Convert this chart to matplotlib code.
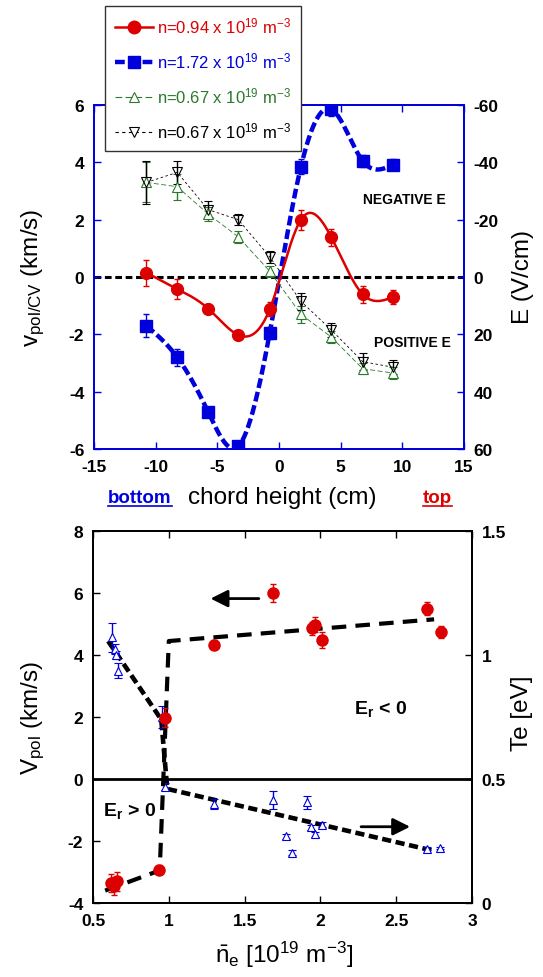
import numpy as np
import matplotlib
matplotlib.use("Agg")
import matplotlib.pyplot as plt
from matplotlib.lines import Line2D

plt.rcParams['font.family'] = ['Liberation Sans', 'DejaVu Sans']
plt.rcParams['mathtext.fontset'] = 'custom'
plt.rcParams['mathtext.rm'] = 'Liberation Sans'
plt.rcParams['mathtext.it'] = 'Liberation Sans:italic'
plt.rcParams['mathtext.bf'] = 'Liberation Sans:bold'
plt.rcParams['axes.unicode_minus'] = False

# ---- top panel: poloidal velocity profiles vs chord height ----
chord = [-10.75, -8.25, -5.75, -3.3, -0.75, 1.78, 4.25, 6.78, 9.25]

v_094 = [0.15, -0.42, -1.1, -2.02, -1.12, 2.0, 1.38, -0.6, -0.7]
e_094 = [0.45, 0.35, 0.15, 0.15, 0.25, 0.35, 0.3, 0.3, 0.25]

v_172 = [-1.7, -2.8, -4.7, -5.9, -1.95, 3.85, 5.85, 4.05, 3.92]
e_172 = [0.4, 0.3, 0.15, 0.1, 0.2, 0.25, 0.25, 0.2, 0.2]

v_067a = [3.3, 3.15, 2.2, 1.4, 0.2, -1.3, -2.1, -3.2, -3.35]
e_067a = [0.7, 0.45, 0.25, 0.2, 0.2, 0.3, 0.2, 0.2, 0.2]

v_067b = [3.3, 3.65, 2.35, 2.0, 0.7, -0.85, -1.85, -2.95, -3.15]
e_067b = [0.75, 0.4, 0.3, 0.2, 0.2, 0.3, 0.25, 0.3, 0.25]

# ---- bottom panel: Vpol and Te vs line averaged density ----
ne_v = [0.62, 0.64, 0.66, 0.936, 0.974, 1.30, 1.686, 1.944, 1.967, 2.013, 2.70, 2.795]
vpol = [-3.35, -3.45, -3.3, -2.92, 1.98, 4.33, 6.0, 4.86, 4.98, 4.49, 5.50, 4.74]
vpol_err = [0.3, 0.3, 0.3, 0.15, 0.3, 0.15, 0.3, 0.2, 0.25, 0.25, 0.2, 0.2]

ne_te = [0.625, 0.643, 0.65, 0.668, 0.955, 0.975, 1.30, 1.686, 1.773, 1.81,
         1.913, 1.94, 1.966, 2.01, 2.70, 2.79]
te = [1.071, 1.025, 1.0, 0.9375, 0.75, 0.469, 0.40, 0.415, 0.269, 0.2025,
      0.406, 0.306, 0.2775, 0.315, 0.219, 0.2225]
te_err = [0.06, 0.02, 0.015, 0.03, 0.045, 0.015, 0.02, 0.035, 0.01, 0.01,
          0.025, 0.01, 0.01, 0.01, 0.005, 0.005]

# hand-drawn trend lines of the original figure
fit_v_ne = [0.58, 0.94, 1.0, 2.75]
fit_v = [-3.6, -2.95, 4.45, 5.15]
fit_te_ne = [0.6, 0.95, 0.99, 2.75]
fit_te = [1.056, 0.74, 0.46, 0.21]

RED = '#dd0000'
BLUE = '#0000dd'
GREEN = '#2a7a2a'
TICK_FS = 12.5
LABEL_FS = 17.5


def natural_spline(x, y, n=300):
    x = np.asarray(x, float)
    y = np.asarray(y, float)
    h = np.diff(x)
    m = len(x)
    A = np.zeros((m, m))
    b = np.zeros(m)
    A[0, 0] = A[-1, -1] = 1
    for i in range(1, m - 1):
        A[i, i - 1] = h[i - 1]
        A[i, i] = 2 * (h[i - 1] + h[i])
        A[i, i + 1] = h[i]
        b[i] = 6 * ((y[i + 1] - y[i]) / h[i] - (y[i] - y[i - 1]) / h[i - 1])
    M = np.linalg.solve(A, b)
    xs = np.linspace(x[0], x[-1], n)
    k = np.clip(np.searchsorted(x, xs) - 1, 0, m - 2)
    hk = h[k]
    t1 = x[k + 1] - xs
    t0 = xs - x[k]
    ys = (M[k] * t1 ** 3 + M[k + 1] * t0 ** 3) / (6 * hk) \
        + (y[k] / hk - M[k] * hk / 6) * t1 + (y[k + 1] / hk - M[k + 1] * hk / 6) * t0
    return xs, ys


fig = plt.figure(figsize=(5.43, 9.78), dpi=100)

# ================= top panel =================
ax = fig.add_axes([94 / 543, 1 - 450 / 978, 370 / 543, 344 / 978])
ax.set_xlim(-15, 15)
ax.set_ylim(-6, 6)

ax.axhline(0, color='black', ls=(0, (2.2, 1.2)), lw=2.2, zorder=1)

xs, ys = natural_spline(chord, v_094)
ax.plot(xs, ys, color=RED, lw=1.8, zorder=3)
xs, ys = natural_spline(chord, v_172)
ax.plot(xs, ys, color=BLUE, lw=3.2, ls=(0, (2.2, 0.9)), zorder=2)

ax.plot(chord, v_067a, color=GREEN, lw=0.6, ls=(0, (6, 3)), zorder=2)
ax.plot(chord, v_067b, color='black', lw=0.6, ls=(0, (3, 3)), zorder=2)

ax.errorbar(chord, v_067a, yerr=e_067a, fmt='^', ms=7, mfc='white', mec=GREEN,
            mew=0.8, ecolor=GREEN, elinewidth=1, capsize=3, zorder=4)
ax.errorbar(chord, v_067b, yerr=e_067b, fmt='v', ms=7, mfc='none', mec='black',
            mew=0.8, ecolor='black', elinewidth=1, capsize=3, zorder=4)
ax.errorbar(chord, v_094, yerr=e_094, fmt='o', ms=8.5, color=RED,
            ecolor=RED, elinewidth=1, capsize=2.5, zorder=5)
ax.errorbar(chord, v_172, yerr=e_172, fmt='s', ms=8, color=BLUE,
            ecolor=BLUE, elinewidth=1, capsize=2.5, zorder=5)

ax.set_xticks(range(-15, 16, 5))
ax.set_yticks(range(-6, 7, 2))
ax.tick_params(direction='in', length=5, width=1, color=BLUE, top=True,
               labelsize=TICK_FS, pad=7)
for lab in ax.get_xticklabels() + ax.get_yticklabels():
    lab.set_fontweight('bold')
for sp in ax.spines.values():
    sp.set_color(BLUE)
    sp.set_linewidth(1.3)

ax2 = ax.twinx()
ax2.set_ylim(60, -60)
ax2.set_yticks(range(-60, 61, 20))
ax2.tick_params(direction='in', length=5, width=1, color=BLUE, labelsize=TICK_FS, pad=7)
for lab in ax2.get_yticklabels():
    lab.set_fontweight('bold')
for sp in ax2.spines.values():
    sp.set_color(BLUE)
    sp.set_linewidth(1.3)

ax.text(10.2, 2.72, 'NEGATIVE E', fontsize=10, fontweight='bold',
        ha='center', va='center')
ax.text(10.8, -2.27, 'POSITIVE E', fontsize=10, fontweight='bold',
        ha='center', va='center')

fig.text(33 / 543, 1 - 278 / 978, r'v$_{\mathregular{pol/CV}}$ (km/s)', rotation=90,
         fontsize=LABEL_FS, ha='center', va='center')
fig.text(523 / 543, 1 - 277 / 978, 'E (V/cm)', rotation=90,
         fontsize=LABEL_FS, ha='center', va='center')
fig.text(282 / 543, 1 - 498 / 978, 'chord height (cm)', fontsize=LABEL_FS,
         ha='center', va='center')
t_bot = fig.text(108 / 543, 1 - 499 / 978, 'bottom', fontsize=13.5, fontweight='bold',
                 color=BLUE, ha='left', va='center')
t_top = fig.text(423 / 543, 1 - 499 / 978, 'top', fontsize=13.5, fontweight='bold',
                 color=RED, ha='left', va='center')

handles = [
    Line2D([], [], color=RED, lw=1.8, marker='o', ms=9),
    Line2D([], [], color=BLUE, lw=3.2, ls=(0, (2.2, 0.9)), marker='s', ms=8.5),
    Line2D([], [], color=GREEN, lw=0.8, ls=(0, (6, 3)), marker='^', ms=7,
           mfc='white', mec=GREEN, mew=0.8),
    Line2D([], [], color='black', lw=0.8, ls=(0, (3, 3)), marker='v', ms=7,
           mfc='white', mec='black', mew=0.8),
]
labels = [r'n=0.94 x 10$^{19}$ m$^{-3}$', r'n=1.72 x 10$^{19}$ m$^{-3}$',
          r'n=0.67 x 10$^{19}$ m$^{-3}$', r'n=0.67 x 10$^{19}$ m$^{-3}$']
leg = fig.legend(handles, labels, loc='upper left',
                 bbox_to_anchor=(105 / 543, 1 - 7 / 978), borderaxespad=0,
                 fontsize=12, handlelength=2.3, handletextpad=0.2,
                 labelspacing=0.9, borderpad=0.6, fancybox=False,
                 framealpha=1, edgecolor='#333333')
leg.get_frame().set_linewidth(1.0)
for txt, c in zip(leg.get_texts(), [RED, BLUE, GREEN, 'black']):
    txt.set_color(c)

# ================= bottom panel =================
ax3 = fig.add_axes([93 / 543, 1 - 904 / 978, 379 / 543, 372 / 978])
ax3.set_xlim(0.5, 3)
ax3.set_ylim(-4, 8)
ax3.axhline(0, color='black', lw=2, zorder=1)

ax4 = ax3.twinx()
ax4.set_ylim(0, 1.5)

ax3.plot(fit_v_ne, fit_v, color='black', lw=3, ls=(0, (3.5, 2.2)), zorder=3)
ax4.plot(fit_te_ne, fit_te, color='black', lw=3.3, ls=(0, (2, 1)), zorder=3)

ax4.errorbar(ne_te, te, yerr=te_err, fmt='^', ms=6, mfc='white', mec=BLUE,
             mew=0.8, ecolor=BLUE, elinewidth=1, capsize=3, zorder=4)
ax3.errorbar(ne_v, vpol, yerr=vpol_err, fmt='o', ms=8, color=RED,
             ecolor=RED, elinewidth=1, capsize=2.5, zorder=5)
ax3.set_zorder(ax4.get_zorder() + 1)
ax3.patch.set_visible(False)

ax3.annotate('', xy=(1.257, 5.82), xytext=(1.612, 5.82),
             arrowprops=dict(arrowstyle='-|>', color='black', lw=2,
                             mutation_scale=26))
ax3.annotate('', xy=(2.61, -1.54), xytext=(2.25, -1.54),
             arrowprops=dict(arrowstyle='-|>', color='black', lw=2,
                             mutation_scale=26))

ax3.text(2.40, 2.3, r'E$_{\mathbf{r}}$ < 0', fontsize=14, fontweight='bold',
         ha='center', va='center')
ax3.text(0.74, -1.0, r'E$_{\mathbf{r}}$ > 0', fontsize=14, fontweight='bold',
         ha='center', va='center')

ax3.set_xticks([0.5, 1, 1.5, 2, 2.5, 3])
ax3.set_xticklabels(['0.5', '1', '1.5', '2', '2.5', '3'])
ax3.set_yticks(range(-4, 9, 2))
ax3.tick_params(direction='in', length=5, width=1, top=True, labelsize=TICK_FS, pad=7)
ax4.set_yticks([0, 0.5, 1, 1.5])
ax4.set_yticklabels(['0', '0.5', '1', '1.5'])
ax4.tick_params(direction='in', length=5, width=1, labelsize=TICK_FS, pad=7)
for lab in ax3.get_xticklabels() + ax3.get_yticklabels() + ax4.get_yticklabels():
    lab.set_fontweight('bold')
for a in (ax3, ax4):
    for sp in a.spines.values():
        sp.set_linewidth(1.3)

fig.text(33 / 543, 1 - 718 / 978, r'V$_{\mathregular{pol}}$ (km/s)', rotation=90,
         fontsize=LABEL_FS, ha='center', va='center')
fig.text(522 / 543, 1 - 713 / 978, 'Te [eV]', rotation=90,
         fontsize=LABEL_FS, ha='center', va='center')
fig.text(284 / 543, 1 - 955 / 978, r'$\mathregular{\bar{n}_e}$ [10$^{19}$ m$^{-3}$]',
         fontsize=LABEL_FS, ha='center', va='center')

# underline the "bottom" / "top" markers
fig.canvas.draw()
r = fig.canvas.get_renderer()
for t, c in ((t_bot, BLUE), (t_top, RED)):
    bb = t.get_window_extent(r).transformed(fig.transFigure.inverted())
    fig.add_artist(Line2D([bb.x0, bb.x1], [bb.y0 + 0.001, bb.y0 + 0.001],
                          color=c, lw=1.2, transform=fig.transFigure))

fig.savefig('out.png', dpi=100)
